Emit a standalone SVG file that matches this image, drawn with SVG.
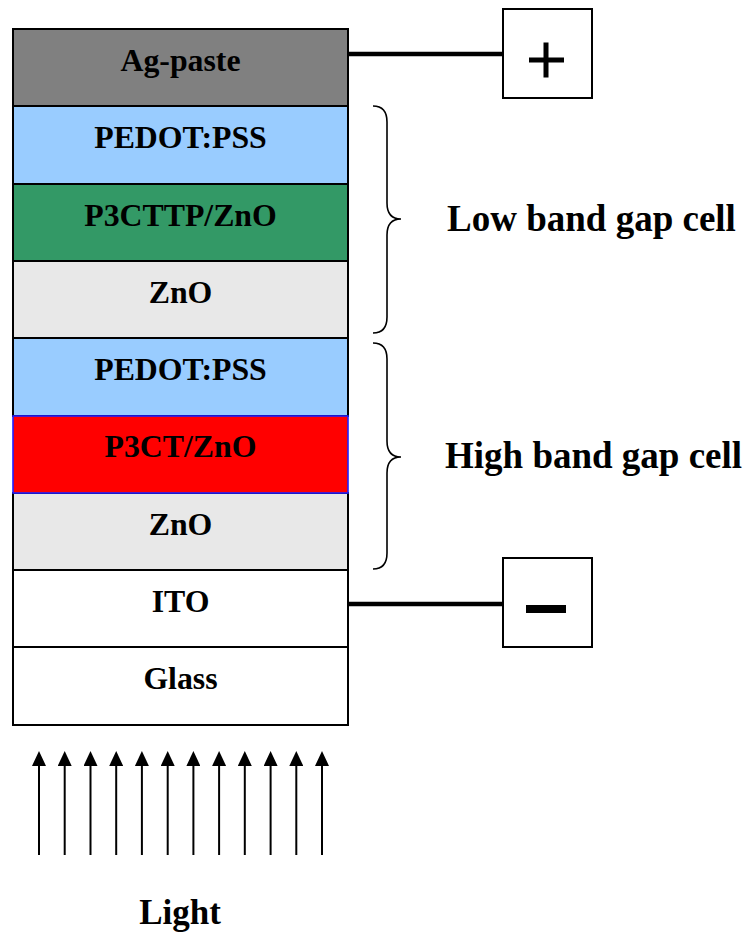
<svg xmlns="http://www.w3.org/2000/svg" width="747" height="934" viewBox="0 0 747 934">
<style>
.layer{stroke:#000;stroke-width:2}
.lt{font-family:"Liberation Serif","Times New Roman",serif;font-weight:bold;font-size:31.8px;text-anchor:middle;fill:#000}
.lbl{font-family:"Liberation Serif","Times New Roman",serif;font-weight:bold;font-size:37px;fill:#000}
.brace{fill:none;stroke:#000;stroke-width:1.6}
.wire{stroke:#000;stroke-width:4.5}
.box{fill:#fff;stroke:#000;stroke-width:2}
.ray{stroke:#000;stroke-width:2}
</style>
<defs>
<marker id="ah" markerWidth="15" markerHeight="14" refX="0" refY="7" orient="auto" markerUnits="userSpaceOnUse" viewBox="0 0 15 14">
<path d="M0,0 L15,7 L0,14 Z" fill="#000"/>
</marker>
</defs>
<rect width="747" height="934" fill="#fff"/>
<g id="ag"><rect class="layer" x="13" y="29" width="335" height="77" fill="#808080"/><text class="lt" x="180.5" y="71">Ag-paste</text></g>
<g id="pedot1"><rect class="layer" x="13" y="106" width="335" height="78" fill="#99CCFF"/><text class="lt" x="180.5" y="148">PEDOT:PSS</text></g>
<g id="p3cttp"><rect class="layer" x="13" y="184" width="335" height="77" fill="#339966"/><text class="lt" x="180.5" y="226">P3CTTP/ZnO</text></g>
<g id="zno1"><rect class="layer" x="13" y="261" width="335" height="77" fill="#E8E8E8"/><text class="lt" x="180.5" y="303">ZnO</text></g>
<g id="pedot2"><rect class="layer" x="13" y="338" width="335" height="78" fill="#99CCFF"/><text class="lt" x="180.5" y="380">PEDOT:PSS</text></g>
<g id="zno2"><rect class="layer" x="13" y="493" width="335" height="77" fill="#E8E8E8"/><text class="lt" x="180.5" y="535">ZnO</text></g>
<g id="p3ct"><rect x="13" y="416" width="335" height="77" fill="#FF0000" stroke="#2020FF" stroke-width="1.6"/><text class="lt" x="180.5" y="457">P3CT/ZnO</text></g>
<g id="ito"><rect class="layer" x="13" y="570" width="335" height="77" fill="#fff"/><text class="lt" x="180.5" y="612">ITO</text></g>
<g id="glass"><rect class="layer" x="13" y="647" width="335" height="78" fill="#fff"/><text class="lt" x="180.5" y="689">Glass</text></g>
<g id="connectors">
<line class="wire" x1="348" y1="54" x2="503" y2="54"/>
<line class="wire" x1="348" y1="604" x2="503" y2="604"/>
<path class="brace" d="M373,106 Q387,106 387,122 L387,203 Q387,219 401,219 Q387,219 387,235 L387,317 Q387,333 373,333"/>
<path class="brace" d="M373,343 Q387,343 387,359 L387,441 Q387,457 401,457 Q387,457 387,473 L387,553 Q387,569 373,569"/>
<g id="rays">
<line class="ray" x1="39" y1="855" x2="39" y2="766" marker-end="url(#ah)"/>
<line class="ray" x1="64.7" y1="855" x2="64.7" y2="766" marker-end="url(#ah)"/>
<line class="ray" x1="90.5" y1="855" x2="90.5" y2="766" marker-end="url(#ah)"/>
<line class="ray" x1="116.2" y1="855" x2="116.2" y2="766" marker-end="url(#ah)"/>
<line class="ray" x1="141.9" y1="855" x2="141.9" y2="766" marker-end="url(#ah)"/>
<line class="ray" x1="167.7" y1="855" x2="167.7" y2="766" marker-end="url(#ah)"/>
<line class="ray" x1="193.4" y1="855" x2="193.4" y2="766" marker-end="url(#ah)"/>
<line class="ray" x1="219.1" y1="855" x2="219.1" y2="766" marker-end="url(#ah)"/>
<line class="ray" x1="244.8" y1="855" x2="244.8" y2="766" marker-end="url(#ah)"/>
<line class="ray" x1="270.6" y1="855" x2="270.6" y2="766" marker-end="url(#ah)"/>
<line class="ray" x1="296.3" y1="855" x2="296.3" y2="766" marker-end="url(#ah)"/>
<line class="ray" x1="322" y1="855" x2="322" y2="766" marker-end="url(#ah)"/>
</g>
</g>
<g id="plus"><rect class="box" x="503" y="9" width="89" height="89"/><rect x="529" y="57.5" width="35" height="5" fill="#000"/><rect x="543.5" y="42.5" width="5" height="35" fill="#000"/></g>
<g id="minus"><rect class="box" x="503" y="558" width="89" height="89"/><rect x="526" y="605" width="40" height="8" fill="#000"/></g>
<g id="lowcell"><text class="lbl" x="447" y="231">Low band gap cell</text></g>
<g id="highcell"><text class="lbl" x="445" y="468">High band gap cell</text></g>
<g id="light"><text class="lbl" x="180" y="924" text-anchor="middle" style="font-size:35px">Light</text></g>
</svg>
